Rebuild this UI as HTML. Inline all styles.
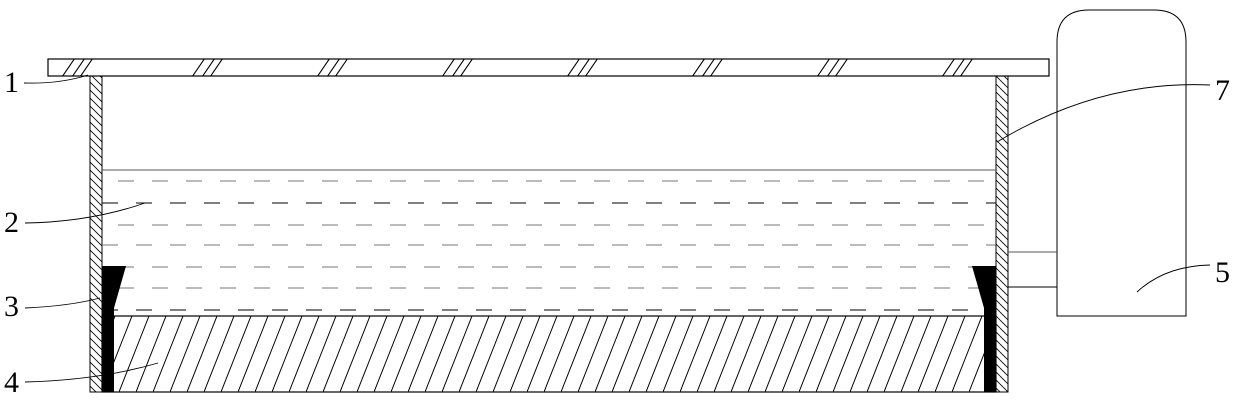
<!DOCTYPE html>
<html><head><meta charset="utf-8"><style>
html,body{margin:0;padding:0;background:#fff;}
svg{display:block}
text{font-family:"Liberation Serif",serif;font-size:30px;fill:#000}
</style></head><body>
<svg width="1239" height="404" viewBox="0 0 1239 404" xmlns="http://www.w3.org/2000/svg">
<defs>
<pattern id="wall" width="8" height="8" patternUnits="userSpaceOnUse">
<path d="M-2,-2 L10,10 M-2,6 L2,10 M6,-2 L10,2" stroke="#000" stroke-width="0.8"/>
</pattern>
<pattern id="bed" width="17" height="76" patternUnits="userSpaceOnUse" patternTransform="translate(102,316)">
<path d="M-34,76 L-4,0 M-17,76 L13,0 M0,76 L30,0" stroke="#000" stroke-width="1"/>
</pattern>
<clipPath id="lidc"><rect x="48" y="59" width="1001" height="17"/></clipPath>
</defs>
<!-- lid -->
<rect x="48" y="59" width="1001" height="17" fill="#fff" stroke="#000" stroke-width="1.2"/>
<g clip-path="url(#lidc)" stroke="#000" stroke-width="1.1">
<g id="hg"><path d="M62,77 L75,58 M72,77 L85,58 M80,77 L93,58"/></g>
<use href="#hg" x="130"/><use href="#hg" x="255"/><use href="#hg" x="380"/><use href="#hg" x="505"/><use href="#hg" x="630"/><use href="#hg" x="755"/><use href="#hg" x="880"/>
</g>
<!-- walls -->
<rect x="90" y="76" width="12" height="316" fill="url(#wall)" stroke="#000" stroke-width="1"/>
<rect x="996" y="76" width="12" height="316" fill="url(#wall)" stroke="#000" stroke-width="1"/>
<!-- water -->
<line x1="102" y1="170" x2="996" y2="170" stroke="#555" stroke-width="1"/>
<g stroke-width="1" stroke-dasharray="16,18">
<line x1="118" y1="181" x2="996" y2="181" stroke="#777"/>
<line x1="102" y1="203" x2="996" y2="203" stroke="#000"/>
<line x1="118" y1="225" x2="996" y2="225" stroke="#777"/>
<line x1="102" y1="245" x2="996" y2="245" stroke="#777"/>
<line x1="118" y1="267" x2="996" y2="267" stroke="#777"/>
<line x1="118" y1="288" x2="996" y2="288" stroke="#777"/>
<line x1="102" y1="310" x2="996" y2="310" stroke="#000"/>
</g>
<!-- bed -->
<rect x="102" y="316" width="894" height="76" fill="url(#bed)"/>
<rect x="102" y="316" width="894" height="76" fill="none" stroke="#000" stroke-width="1.2"/>
<!-- wedges -->
<path d="M102,266 L126,266 L114,308 L114,392 L102,392 Z" fill="#000"/>
<path d="M996,266 L972,266 L984,308 L984,392 L996,392 Z" fill="#000"/>
<!-- tank -->
<path d="M1057,316 L1057,42 Q1057,10 1089,10 L1154,10 Q1186,10 1186,42 L1186,316 Z" fill="#fff" stroke="#000" stroke-width="1"/>
<line x1="1008" y1="252" x2="1057" y2="252" stroke="#555" stroke-width="1"/>
<line x1="1008" y1="287" x2="1057" y2="287" stroke="#000" stroke-width="1"/>
<!-- leaders -->
<g fill="none" stroke="#000" stroke-width="0.9">
<path d="M24,83 Q60,84 88,75"/>
<path d="M25,223 Q90,222 145,203"/>
<path d="M25,308 Q70,306 100,298"/>
<path d="M25,382 Q100,380 158,363"/>
<path d="M1210,85 Q1100,80 997,142"/>
<path d="M1210,265 Q1165,266 1137,292"/>
</g>
<text x="4" y="92">1</text>
<text x="4" y="232">2</text>
<text x="4" y="316">3</text>
<text x="4" y="392">4</text>
<text x="1215" y="100">7</text>
<text x="1215" y="282">5</text>
</svg>
</body></html>
